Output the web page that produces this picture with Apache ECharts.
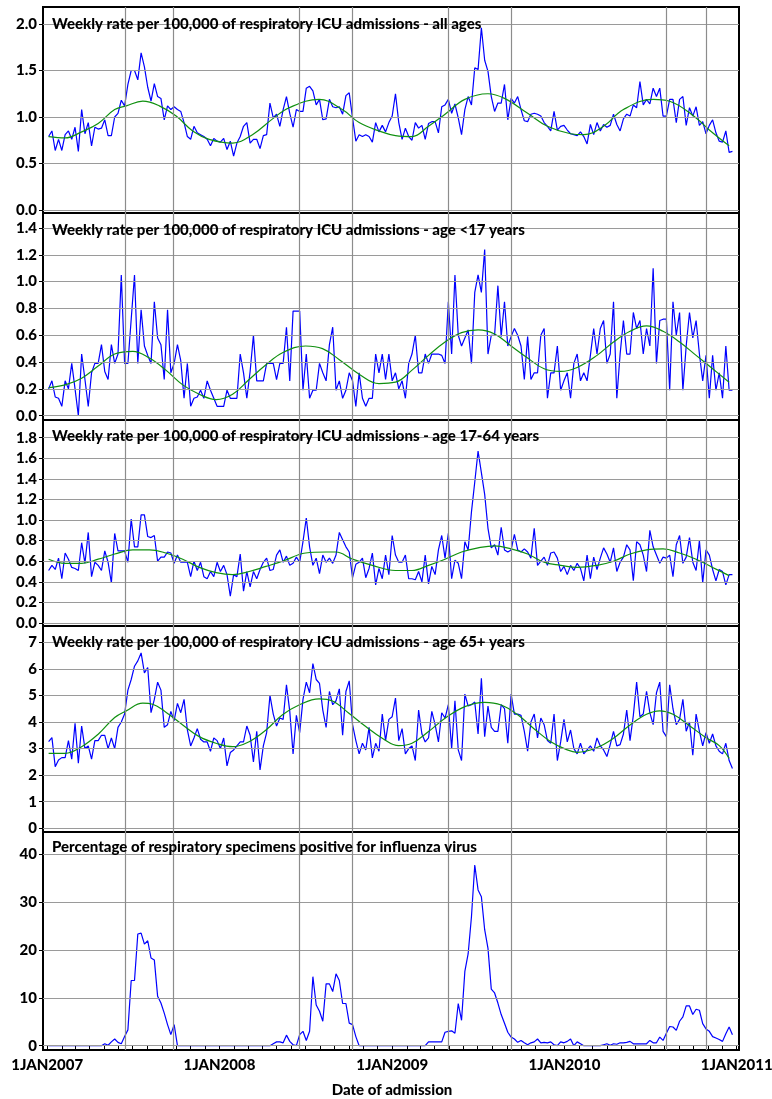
<!DOCTYPE html>
<html><head><meta charset="utf-8">
<script src="https://cdn.jsdelivr.net/npm/echarts@6/dist/echarts.min.js"></script>
<style>html,body{margin:0;padding:0;background:#fff}#c{width:772px;height:1099px}</style>
</head><body><div id="c"></div><script>
// ---------------- DATA ----------------
// weekly series, first week starting 4 Jan 2007
const allAges = [
0.79,0.85,0.64,0.76,0.64,0.81,0.85,0.76,0.89,0.63,
1.08,0.82,0.94,0.69,0.89,0.87,0.88,0.97,0.80,0.80,
1.00,1.04,1.18,1.12,1.35,1.50,1.50,1.40,1.69,1.54,
1.32,1.17,1.36,1.22,1.20,0.97,1.12,1.08,1.11,1.08,
1.06,0.94,0.79,0.76,0.90,0.83,0.81,0.79,0.76,0.69,
0.77,0.74,0.73,0.77,0.65,0.74,0.58,0.72,0.79,0.90,
0.94,0.72,0.76,0.76,0.66,0.80,0.81,1.15,0.99,1.03,
0.90,1.08,1.22,1.04,0.89,1.08,1.06,1.06,1.31,1.33,
1.28,1.13,1.19,0.97,0.98,1.19,1.11,1.10,1.11,1.03,
1.23,1.26,0.99,0.74,0.81,0.79,0.81,0.79,0.73,0.94,
0.84,0.91,0.84,0.94,1.01,1.25,0.94,
0.76,0.88,0.79,0.75,0.94,0.88,0.91,0.76,0.93,0.95,
0.95,0.83,1.11,1.13,1.19,1.04,1.14,0.99,0.81,1.08,
1.22,1.13,1.53,1.51,1.96,1.61,1.49,1.22,1.06,1.15,
1.15,1.35,0.97,1.20,1.15,1.22,1.08,0.96,0.95,1.03,
1.04,1.03,1.01,0.94,0.90,0.85,1.06,0.86,0.90,0.91,
0.86,0.82,0.81,0.80,0.84,0.79,0.71,0.92,0.81,0.94,
0.85,0.92,0.89,0.91,1.03,0.92,0.85,0.98,1.03,1.01,
1.13,1.10,1.38,1.13,1.19,1.14,1.31,1.22,1.31,1.01,
1.01,1.19,1.19,0.94,1.19,1.22,0.91,1.10,1.01,1.11,
0.91,0.95,0.82,0.91,0.97,0.83,0.74,0.73,0.85,0.62,
0.63];
const under17 = [
0.20,0.26,0.14,0.13,0.07,0.26,0.20,0.39,0.20,0.00,
0.46,0.27,0.07,0.32,0.39,0.39,0.53,0.33,0.27,0.53,
0.39,0.46,1.05,0.39,0.39,0.72,1.05,0.39,0.79,0.52,
0.45,0.39,0.85,0.58,0.53,0.27,0.79,0.32,0.39,0.53,
0.41,0.13,0.39,0.07,0.13,0.14,0.19,0.13,0.26,0.19,
0.13,0.07,0.07,0.07,0.19,0.13,0.13,0.13,0.46,0.32,
0.13,0.33,0.60,0.26,0.26,0.26,0.39,0.39,0.39,0.27,
0.39,0.39,0.66,0.26,0.78,0.78,0.78,0.19,0.46,0.13,
0.19,0.19,0.39,0.32,0.26,0.53,0.66,0.19,0.26,0.13,
0.19,0.32,0.26,0.07,0.32,0.13,0.07,0.13,0.13,0.46,
0.32,0.46,0.27,0.46,0.26,0.32,0.20,
0.26,0.13,0.39,0.46,0.60,0.32,0.32,0.46,0.39,0.46,
0.46,0.46,0.45,0.39,0.85,0.46,1.05,0.60,0.52,0.58,
0.64,0.39,0.92,1.05,0.92,1.24,0.46,0.60,0.60,0.97,
0.59,0.85,0.52,0.59,0.65,0.60,0.52,0.27,0.59,0.27,
0.32,0.32,0.60,0.65,0.13,0.32,0.32,0.52,0.19,0.26,
0.32,0.13,0.39,0.46,0.26,0.32,0.26,0.45,0.65,0.46,
0.65,0.71,0.39,0.46,0.85,0.13,0.46,0.71,0.46,0.46,
0.77,0.65,0.71,0.46,0.65,0.52,1.10,0.39,0.71,0.72,
0.72,0.19,0.85,0.60,0.77,0.19,0.52,0.77,0.58,0.71,
0.46,0.26,0.45,0.13,0.45,0.19,0.32,0.13,0.52,0.19,
0.19];
const age17to64 = [
0.51,0.56,0.52,0.63,0.43,0.68,0.62,0.54,0.53,0.51,
0.78,0.58,0.88,0.45,0.59,0.56,0.51,0.70,0.59,0.39,
0.87,0.70,0.70,0.70,0.59,1.01,0.74,0.74,1.05,1.05,
0.84,0.83,0.85,0.60,0.64,0.64,0.69,0.68,0.58,0.66,
0.59,0.59,0.59,0.45,0.60,0.51,0.59,0.45,0.43,0.50,
0.45,0.59,0.50,0.56,0.47,0.26,0.47,0.45,0.67,0.31,
0.50,0.35,0.50,0.43,0.52,0.59,0.63,0.51,0.52,0.66,
0.71,0.59,0.65,0.56,0.58,0.64,0.59,0.79,1.02,0.74,
0.56,0.63,0.48,0.66,0.59,0.63,0.58,0.66,0.88,0.81,
0.74,0.69,0.44,0.57,0.59,0.63,0.44,0.53,0.68,0.37,
0.53,0.43,0.66,0.47,0.85,0.66,
0.59,0.59,0.66,0.43,0.43,0.42,0.50,0.40,0.66,0.38,
0.55,0.47,0.71,0.85,0.63,0.87,0.43,0.61,0.58,0.43,
0.79,0.71,1.08,1.37,1.67,1.46,1.25,0.92,0.73,0.76,
0.66,0.93,0.71,0.69,0.71,0.86,0.71,0.69,0.72,0.69,
0.63,0.92,0.56,0.60,0.64,0.56,0.68,0.69,0.63,0.50,
0.55,0.47,0.56,0.51,0.58,0.53,0.41,0.66,0.43,0.64,
0.52,0.63,0.73,0.67,0.59,0.73,0.50,0.59,0.64,0.76,
0.71,0.41,0.79,0.76,0.66,0.50,0.90,0.74,0.66,0.58,
0.64,0.63,0.66,0.45,0.76,0.85,0.58,0.64,0.83,0.59,
0.51,0.80,0.39,0.71,0.66,0.52,0.41,0.52,0.50,0.37,
0.47,0.47];
const age65plus = [
3.26,3.41,2.32,2.57,2.66,2.66,3.30,2.60,3.95,2.45,
3.85,3.00,3.10,2.60,3.30,3.30,3.50,3.50,3.00,3.40,
3.00,3.80,4.00,4.30,5.20,5.60,6.10,6.30,6.60,5.85,
6.05,4.35,4.85,5.50,5.20,3.80,3.90,4.40,4.05,4.70,
4.35,4.85,3.70,3.10,3.40,3.75,3.35,3.25,3.25,2.90,
3.40,3.30,3.00,3.40,2.35,2.85,2.95,3.10,3.25,3.25,
3.85,3.50,2.50,3.65,2.20,3.10,3.60,5.00,4.30,3.85,
4.15,4.10,5.40,4.40,2.80,4.25,3.60,4.85,5.50,5.10,
6.20,5.60,5.45,4.45,3.80,5.15,4.65,4.80,5.25,3.50,
5.15,5.55,3.90,3.30,2.80,3.20,2.95,3.80,2.65,3.20,
2.90,4.30,3.30,4.10,4.20,4.90,3.30,
3.75,2.80,3.00,3.10,2.55,4.45,3.55,3.25,3.40,4.40,
3.90,3.25,4.35,4.15,4.65,3.00,4.80,2.95,2.55,5.05,
4.60,4.65,4.75,3.55,5.65,3.45,4.60,3.80,3.65,3.65,
4.65,4.50,3.20,5.05,4.30,4.30,4.25,3.65,2.90,4.00,
4.30,3.40,4.15,3.90,3.30,3.20,4.30,2.55,3.25,4.10,
3.25,3.70,3.00,2.80,3.20,2.80,2.95,3.10,2.90,3.40,
3.10,2.95,2.70,3.15,3.65,3.10,3.15,3.55,4.45,3.30,
4.25,5.50,4.20,4.30,5.15,4.35,3.90,5.10,5.50,3.65,
3.45,5.40,4.50,3.90,4.10,4.85,3.65,4.00,2.75,4.30,
3.65,3.10,3.60,3.20,3.55,3.10,2.90,2.80,3.20,2.55,
2.25];
const fluPositive = [
0,0,0,0,0,0,0,0,0,0, 0,0,0,0,0,0,0,0.4,0.1,0.8,
1.4,0.7,0.4,1.9,3.3,13.6,13.6,23.3,23.5,21.2, 21.9,18.3,17.9,10.3,8.9,6.8,4.4,2.3,4.4,0,
0,0,0,0,0,0,0,0,0,0, 0,0,0,0,0,0,0,0,0,0,
0,0,0,0,0,0,0,0,0.4,0.8, 0.8,0.6,2.2,0.9,0.2,0,2.3,3.0,1.1,3.0,
14.4,8.5,7.2,5.1,12.9,12.9,11.3,15.0,13.6,8.8, 8.8,4.7,4.4,1.9,0,0,0,0,0,0,
0,0,0,0,0,0,0,0,0,0, 0,0,0,0,0,0.8,0.8,0.8,0.8,0.8,
2.8,3.0,3.1,2.6,8.8,5.3,15.5,19.2,26.9,37.7, 32.5,31.1,24.2,20.3,11.8,11.0,8.9,6.5,4.7,2.8,
1.8,1.4,0.7,1.1,0.6,0.2,0.6,0.8,1.4,0.6, 0.7,0.6,0.8,0.2,0,0.8,0.6,0.9,1.4,0,
0.8,0.4,0,0,0,0,0,0,0.2,0.4, 0.1,0.4,0.3,0.6,0.6,0.7,0.9,0.4,0.4,0.4,
0.4,0.4,1.1,0.6,0.6,1.8,1.1,2.6,4.0,3.9, 3.2,5.1,6.0,8.3,8.3,6.5,7.6,7.4,4.6,3.5,
3.0,1.9,1.6,1.3,0.9,2.5,3.9,2.3];

// smooth trend curves: week index -> value
const trendAllW  = [0,5,10,15,20,23.5,28.5,33.5,38.6,43.6,48.6,55.7,61.7,67.8,72.8,81.9,88.9,94,100,105,110,115,120,126,133,138,145,151,158,162,168,174,183,188,196,200,206];
const trendAllV  = [0.79,0.775,0.84,0.93,1.08,1.12,1.17,1.12,1.01,0.85,0.76,0.72,0.81,0.98,1.10,1.19,1.08,0.94,0.85,0.80,0.79,0.90,1.03,1.19,1.25,1.20,1.04,0.90,0.82,0.81,0.90,1.08,1.19,1.17,0.99,0.86,0.69];
const trendU17W  = [0,5,10,15,20,25.5,30.5,35.5,40.6,45.6,50.7,55.7,60.7,65.8,70.8,77.8,82.9,87.9,94,100,105,110,115,120,125,130,135,140,145,150,155,160,166,171,176,181,186,191,196,201,206];
const trendU17V  = [0.21,0.23,0.28,0.37,0.46,0.48,0.43,0.34,0.23,0.16,0.12,0.16,0.27,0.38,0.47,0.52,0.50,0.42,0.31,0.24,0.25,0.34,0.45,0.55,0.62,0.64,0.61,0.52,0.43,0.35,0.33,0.36,0.45,0.55,0.63,0.67,0.63,0.55,0.45,0.35,0.25];
const trend1764W = [0,5,10,15,20,25.5,30.5,35.5,40.6,45.6,50.7,55.7,60.7,65.8,70.8,77.8,84,87,92,98,105,110,115,120,125,130,135,140,145,150,155,160,166,171,176,181,186,191,196,201,206];
const trend1764V = [0.62,0.58,0.58,0.62,0.67,0.71,0.71,0.68,0.62,0.54,0.49,0.47,0.50,0.55,0.60,0.68,0.69,0.69,0.62,0.56,0.51,0.51,0.56,0.62,0.69,0.73,0.75,0.72,0.67,0.59,0.56,0.54,0.56,0.60,0.67,0.71,0.72,0.68,0.62,0.54,0.46];
const trend65W   = [0,5,10,15,20,23.5,28.5,31.5,35.5,40.6,45.6,50.7,55.7,60.7,65.8,70.8,75.8,81.9,85.9,90.9,96,101,106,110,115,120,126,132,137,142,147,152,157,160,166,171,176,181,185,189,194,199,203,206];
const trend65V   = [2.82,2.82,3.07,3.54,4.17,4.42,4.71,4.67,4.37,3.89,3.45,3.20,3.07,3.26,3.70,4.27,4.64,4.87,4.79,4.33,3.83,3.39,3.11,3.20,3.64,4.14,4.58,4.74,4.64,4.27,3.74,3.26,2.95,2.86,3.04,3.39,3.89,4.29,4.42,4.29,3.86,3.41,3.11,2.63];

// axis ticks / labels
const ticksAll  = [0, 0.5, 1.0, 1.5, 2.0];
const ticksU17  = [0, 0.2, 0.4, 0.6, 0.8, 1.0, 1.2, 1.4];
const ticks1764 = [0, 0.2, 0.4, 0.6, 0.8, 1.0, 1.2, 1.4, 1.6, 1.8];
const ticks65   = [0, 1, 2, 3, 4, 5, 6, 7];
const ticksFlu  = [0, 10, 20, 30, 40];
const yearLabels = ['1JAN2007', '1JAN2008', '1JAN2009', '1JAN2010', '1JAN2011'];
const seasonDates = ['2007-06-15', '2007-09-26', '2008-06-19', '2008-10-09', '2009-04-29', '2009-09-11', '2010-08-05', '2010-10-28'];
const titles = [
  'Weekly rate per 100,000 of respiratory ICU admissions - all ages',
  'Weekly rate per 100,000 of respiratory ICU admissions - age <17 years',
  'Weekly rate per 100,000 of respiratory ICU admissions - age 17-64 years',
  'Weekly rate per 100,000 of respiratory ICU admissions - age 65+ years',
  'Percentage of respiratory specimens positive for influenza virus'
];
const xTitle = 'Date of admission';

// ---------------- BUILD ----------------
const DAY = 86400000;
const firstWeek = Date.UTC(2007, 0, 4);
const wDate = w => firstWeek + w * 7 * DAY;
const yearVals = yearLabels.map(s => Date.UTC(+s.slice(4), 0, 1));
const monthVals = [];
for (let y = 2007; y <= 2010; y++) for (let m = 0; m < 12; m++) monthVals.push(Date.UTC(y, m, 1));
monthVals.push(Date.UTC(2011, 0, 1));
const seasonVals = seasonDates.map(s => Date.parse(s + 'T00:00:00Z'));
const xMin = Date.UTC(2007, 0, 1) - 8.9 * DAY;
const xMax = Date.UTC(2011, 0, 1) + 4.9 * DAY;

const FONT = "Lato, 'Open Sans', sans-serif";
const FW = 900;

const panels = [
  {blue: allAges,     tw: trendAllW,  tv: trendAllV,  ticks: ticksAll,  dec: 1, top: 7,   bottom: 213,  min: -0.0323, max: 2.183, ty: 24},
  {blue: under17,     tw: trendU17W,  tv: trendU17V,  ticks: ticksU17,  dec: 1, top: 213, bottom: 420,  min: -0.032,  max: 1.512, ty: 230.5},
  {blue: age17to64,   tw: trend1764W, tv: trend1764V, ticks: ticks1764, dec: 1, top: 420, bottom: 626,  min: -0.029,  max: 1.972, ty: 436},
  {blue: age65plus,   tw: trend65W,   tv: trend65V,   ticks: ticks65,   dec: 0, top: 626, bottom: 832,  min: -0.139,  max: 7.613, ty: 642.5},
  {blue: fluPositive, tw: null,       tv: null,       ticks: ticksFlu,  dec: 0, top: 832, bottom: 1050, min: -0.898,  max: 44.59, ty: 847}
];

const grid = [], xAxis = [], yAxis = [], series = [], graphic = [];
panels.forEach((p, i) => {
  grid.push({left: 43, right: 33, top: p.top, height: p.bottom - p.top, show: true,
    borderColor: '#000', borderWidth: 2, backgroundColor: 'transparent', outerBoundsMode: 'none'});
  const last = i === panels.length - 1;
  xAxis.push({type: 'value', gridIndex: i, min: xMin, max: xMax,
    axisLine: {show: false}, splitLine: {show: false},
    axisTick: {show: last, customValues: monthVals, length: 4, inside: false, lineStyle: {color: '#000', width: 1}},
    axisLabel: {show: last, customValues: yearVals, margin: 8, color: '#000', fontWeight: FW, fontSize: 15, fontFamily: FONT,
      formatter: v => { const k = yearVals.indexOf(v); return k >= 0 ? yearLabels[k] : ''; }}
  });
  yAxis.push({type: 'value', gridIndex: i, min: p.min, max: p.max,
    axisLine: {show: false}, splitLine: {show: false},
    axisTick: {show: true, customValues: p.ticks, length: 4, lineStyle: {color: '#000', width: 1}},
    axisLabel: {customValues: p.ticks, margin: 6, color: '#000', fontWeight: FW, fontSize: 15, fontFamily: FONT,
      formatter: v => v.toFixed(p.dec)}
  });
  // grid lines (horizontal at ticks, vertical at season marks)
  series.push({type: 'line', xAxisIndex: i, yAxisIndex: i, data: [], z: 1, silent: true,
    markLine: {silent: true, symbol: 'none', animation: false, label: {show: false},
      lineStyle: {color: '#9a9a9a', width: 1, type: 'solid'},
      data: p.ticks.map(t => ({yAxis: t})).concat(seasonVals.map(d => ({xAxis: d, lineStyle: {color: '#8c8c8c', width: 1.2, type: 'solid'}})))}
  });
  series.push({type: 'line', xAxisIndex: i, yAxisIndex: i, z: 3, showSymbol: false, symbol: 'none',
    lineStyle: {color: '#0000ff', width: 1.2}, data: p.blue.map((v, k) => [wDate(k), v])});
  if (p.tw) {
    series.push({type: 'line', xAxisIndex: i, yAxisIndex: i, z: 4, showSymbol: false, symbol: 'none', smooth: 0.4,
      lineStyle: {color: '#109010', width: 1.2}, data: p.tw.map((w, k) => [wDate(w), p.tv[k]])});
  }
  graphic.push({type: 'text', x: 52, y: p.ty, z: 10, silent: true,
    style: {text: titles[i], font: FW + ' 15px ' + FONT, fill: '#000', align: 'left', verticalAlign: 'middle'}});
});
graphic.push({type: 'text', x: 392, y: 1090, silent: true,
  style: {text: xTitle, font: FW + ' 15px ' + FONT, fill: '#000', align: 'center', verticalAlign: 'middle'}});

const chart = echarts.init(document.getElementById('c'), null, {renderer: 'canvas'});
chart.setOption({animation: false, backgroundColor: '#fff', grid, xAxis, yAxis, series, graphic});
</script></body></html>
